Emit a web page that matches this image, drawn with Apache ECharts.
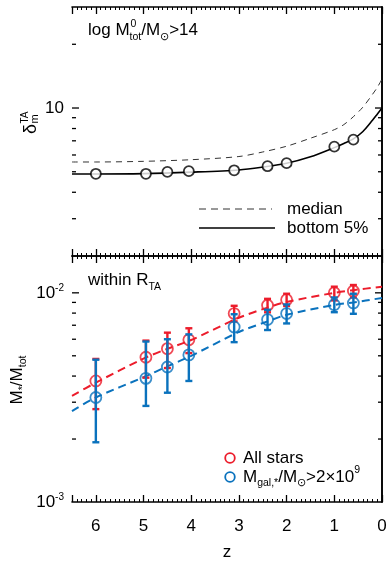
<!DOCTYPE html>
<html><head><meta charset="utf-8">
<script src="https://cdn.jsdelivr.net/npm/echarts@6/dist/echarts.min.js"></script>
<style>html,body{margin:0;padding:0;background:#fff}#c{width:390px;height:562px}</style>
</head><body><div id="c"></div>
<script>
// ---------- data ----------
const zTop = [6.0, 4.95, 4.5, 4.05, 3.1, 2.4, 2.0, 1.0, 0.6];
const deltaBottom5Pts = [4.89, 4.89, 4.99, 5.03, 5.08, 5.31, 5.49, 6.57, 7.09];
const zCurve = [6.5, 6, 5, 4, 3, 2.5, 2, 1.5, 1, 0.8, 0.6, 0.4, 0.2, 0.1, 0];
const bottom5Curve = [4.88, 4.88, 4.9, 4.98, 5.1, 5.26, 5.48, 5.88, 6.5, 6.8, 7.15, 7.75, 8.75, 9.35, 10.0];
const medianCurve = [5.56, 5.56, 5.6, 5.7, 5.9, 6.2, 6.6, 7.2, 7.9, 8.35, 9.1, 10.1, 11.6, 12.5, 13.7];

const zBot = [6.0, 4.95, 4.5, 4.05, 3.1, 2.4, 2.0, 1.0, 0.6];
const allStars   = [3.79e-3, 4.92e-3, 5.41e-3, 5.96e-3, 7.96e-3, 8.72e-3, 9.27e-3, 1.0e-2, 1.02e-2];
const allStarsHi = [4.83e-3, 5.91e-3, 6.45e-3, 6.77e-3, 8.67e-3, 9.36e-3, 9.9e-3, 1.07e-2, 1.09e-2];
const allStarsLo = [2.78e-3, 3.93e-3, 4.37e-3, 5.15e-3, 7.3e-3, 8.07e-3, 8.65e-3, 9.2e-3, 9.5e-3];
const massive    = [3.16e-3, 3.9e-3, 4.42e-3, 5.05e-3, 6.86e-3, 7.45e-3, 7.96e-3, 8.78e-3, 8.95e-3];
const massiveHi  = [4.79e-3, 5.85e-3, 6.0e-3, 6.33e-3, 7.9e-3, 8.3e-3, 8.8e-3, 9.5e-3, 9.9e-3];
const massiveLo  = [1.93e-3, 2.88e-3, 3.33e-3, 3.79e-3, 5.81e-3, 6.64e-3, 7.14e-3, 8.08e-3, 7.94e-3];
const zFit = [6.5, 6, 5, 4.5, 4, 3, 2.4, 2, 1, 0.6, 0];
const allFit  = [3.22e-3, 3.72e-3, 4.85e-3, 5.4e-3, 5.95e-3, 7.6e-3, 8.5e-3, 9.05e-3, 1.0e-2, 1.03e-2, 1.07e-2];
const massFit = [2.72e-3, 3.16e-3, 3.95e-3, 4.45e-3, 5.0e-3, 6.5e-3, 7.3e-3, 7.85e-3, 8.75e-3, 9.0e-3, 9.45e-3];

const xTickLabels = [0, 1, 2, 3, 4, 5, 6];
const topMajorTicks = [10];
const topMinorTicks = [3, 4, 5, 6, 7, 8, 9, 20];
const botMajorTicks = [0.01];
const botMinorTicks = [0.002, 0.003, 0.004, 0.005, 0.006, 0.007, 0.008, 0.009];

// ---------- style ----------
const FONT = '"Liberation Sans", Arial, Helvetica, sans-serif';
const RED = '#EC1C2B', BLUE = '#0A72BD';
const Z_MIN = 0, Z_MAX = 6.5;
const TOP_MIN = 2, TOP_MAX = 30, BOT_MIN = 0.001, BOT_MAX = 0.015;
const TICKCOL = '#000';

const chart = echarts.init(document.getElementById('c'), null, {renderer: 'canvas'});

function zip(a, b) { return a.map((v, i) => [v, b[i]]); }
function zip3(a, b, c) { return a.map((v, i) => [v, b[i], c[i]]); }

function yTickRender(params, api) {
  const v = api.value(1), major = api.value(2);
  const l = api.coord([Z_MAX, v]), r = api.coord([Z_MIN, v]);
  const len = major ? 7 : 4;
  return {type: 'group', children: [
    {type: 'line', shape: {x1: l[0], y1: l[1], x2: l[0] + len, y2: l[1]}, style: {stroke: '#000', lineWidth: 1.3}},
    {type: 'line', shape: {x1: r[0], y1: r[1], x2: r[0] - len, y2: r[1]}, style: {stroke: '#000', lineWidth: 1.3}}
  ]};
}
function errRender(color) {
  return function (params, api) {
    const z = api.value(0);
    const a = api.coord([z, api.value(1)]), b = api.coord([z, api.value(2)]);
    const w = 3.5;
    const st = {stroke: color, lineWidth: 2.4};
    return {type: 'group', children: [
      {type: 'line', shape: {x1: a[0], y1: a[1], x2: b[0], y2: b[1]}, style: st},
      {type: 'line', shape: {x1: a[0] - w, y1: a[1], x2: a[0] + w, y2: a[1]}, style: st},
      {type: 'line', shape: {x1: b[0] - w, y1: b[1], x2: b[0] + w, y2: b[1]}, style: st}
    ]};
  };
}
function tickData(major, minor) {
  return major.map(v => [0, v, 1]).concat(minor.map(v => [0, v, 0]));
}
function near(v, t) { return Math.abs(Math.log10(v) - Math.log10(t)) < 1e-6; }

function xAx(grid, pos, labels) {
  return {
    type: 'value', gridIndex: grid, position: pos, min: Z_MIN, max: Z_MAX, interval: 1, inverse: true,
    axisLine: {show: true, lineStyle: {color: '#000', width: 1.6}},
    axisTick: {show: true, inside: true, length: 7, lineStyle: {color: TICKCOL, width: 1.3}},
    minorTick: {show: true, splitNumber: 10, length: 3, lineStyle: {color: TICKCOL, width: 1}},
    splitLine: {show: false},
    axisLabel: labels ? {show: true, margin: 16, fontSize: 17, color: '#000', fontFamily: FONT,
      formatter: v => (xTickLabels.indexOf(Math.round(v)) >= 0 ? String(Math.round(v)) : '')} : {show: false},
    name: labels ? 'z' : '', nameLocation: 'middle', nameGap: 42,
    nameTextStyle: {fontSize: 17, color: '#000', fontFamily: FONT}
  };
}
function yAx(grid, pos, min, max, fmt) {
  return {
    type: 'log', logBase: 10, gridIndex: grid, position: pos, min: min, max: max,
    axisLine: {show: true, lineStyle: {color: '#000', width: 1.6}}, axisTick: {show: false},
    splitLine: {show: false},
    axisLabel: fmt ? {show: true, margin: 8, color: '#000', fontFamily: FONT,
      formatter: fmt,
      rich: {b: {fontSize: 17, fontFamily: FONT, color: '#000', lineHeight: 20, verticalAlign: 'middle'},
             s: {fontSize: 10, fontFamily: FONT, color: '#000', lineHeight: 10, verticalAlign: 'top'}}} : {show: false}
  };
}

const mctx = document.createElement('canvas').getContext('2d');
function tw(t, size) { mctx.font = size + 'px ' + FONT; return mctx.measureText(t).width; }

const richMain = {fontSize: 17, fontFamily: FONT, color: '#000', lineHeight: 24, verticalAlign: 'middle'};
const richSub = {fontSize: 10.5, fontFamily: FONT, color: '#000', lineHeight: 10, verticalAlign: 'bottom'};
const richSup = {fontSize: 10.5, fontFamily: FONT, color: '#000', lineHeight: 10, verticalAlign: 'top'};
const RICH = {m: richMain, s: richSub, p: richSup};

const titleX = 88, titleY = 34;
const supX = titleX + tw('log M', 17) + 1;

const option = {
  animation: false,
  grid: [
    {left: 72, top: 7, width: 310, height: 249},
    {left: 72, top: 256, width: 310, height: 250}
  ],
  xAxis: [xAx(0, 'bottom', false), xAx(0, 'top', false), xAx(1, 'bottom', true), xAx(1, 'top', false)],
  yAxis: [
    yAx(0, 'left', TOP_MIN, TOP_MAX, v => (near(v, 10) ? '{b|10}' : '')),
    yAx(0, 'right', TOP_MIN, TOP_MAX, null),
    yAx(1, 'left', BOT_MIN, BOT_MAX, v => (near(v, 0.01) ? '{b|10}{s|-2}' : near(v, 0.001) ? '{b|10}{s|-3}' : '')),
    yAx(1, 'right', BOT_MIN, BOT_MAX, null)
  ],
  series: [
    {type: 'custom', xAxisIndex: 0, yAxisIndex: 0, renderItem: yTickRender, data: tickData(topMajorTicks, topMinorTicks), silent: true, z: 1},
    {type: 'custom', xAxisIndex: 2, yAxisIndex: 2, renderItem: yTickRender, data: tickData(botMajorTicks, botMinorTicks), silent: true, z: 1},
    {type: 'line', xAxisIndex: 0, yAxisIndex: 0, data: zip(zCurve, medianCurve), smooth: 0.3, showSymbol: false,
      lineStyle: {color: '#333', width: 1, type: [6, 5]}, z: 2},
    {type: 'line', xAxisIndex: 0, yAxisIndex: 0, data: zip(zCurve, bottom5Curve), smooth: 0.3, showSymbol: false,
      lineStyle: {color: '#000', width: 1.6}, z: 2},
    {type: 'scatter', xAxisIndex: 0, yAxisIndex: 0, data: zip(zTop, deltaBottom5Pts), symbol: 'circle', symbolSize: 10,
      itemStyle: {color: '#fff', borderColor: '#000', borderWidth: 1.8}, z: 3},
    {type: 'line', xAxisIndex: 2, yAxisIndex: 2, data: zip(zFit, allFit), smooth: 0.3, showSymbol: false,
      lineStyle: {color: RED, width: 2, type: [8, 5]}, z: 2},
    {type: 'line', xAxisIndex: 2, yAxisIndex: 2, data: zip(zFit, massFit), smooth: 0.3, showSymbol: false,
      lineStyle: {color: BLUE, width: 2, type: [8, 5]}, z: 2},
    {type: 'custom', xAxisIndex: 2, yAxisIndex: 2, renderItem: errRender(RED), data: zip3(zBot, allStarsLo, allStarsHi),
      encode: {x: 0, y: [1, 2]}, z: 3},
    {type: 'scatter', xAxisIndex: 2, yAxisIndex: 2, data: zip(zBot, allStars), symbol: 'circle', symbolSize: 11,
      itemStyle: {color: 'rgba(0,0,0,0)', borderColor: RED, borderWidth: 1.8}, z: 4},
    {type: 'custom', xAxisIndex: 2, yAxisIndex: 2, renderItem: errRender(BLUE), data: zip3(zBot, massiveLo, massiveHi),
      encode: {x: 0, y: [1, 2]}, z: 5},
    {type: 'scatter', xAxisIndex: 2, yAxisIndex: 2, data: zip(zBot, massive), symbol: 'circle', symbolSize: 11,
      itemStyle: {color: 'rgba(0,0,0,0)', borderColor: BLUE, borderWidth: 1.8}, z: 6}
  ],
  graphic: [
    {type: 'text', left: titleX, top: titleY - 12, style: {text: '{m|log M}{s|tot}{m|/M}{s|⊙}{m|>14}', rich: RICH}},
    {type: 'text', x: supX, y: titleY - 10, style: {text: '0', fontSize: 10.5, fontFamily: FONT, fill: '#000', verticalAlign: 'middle'}},
    {type: 'text', left: titleX, top: 284 - 12, style: {text: '{m|within R}{s|TA}', rich: RICH}},
    {type: 'line', shape: {x1: 199, y1: 209, x2: 272, y2: 209}, style: {stroke: '#333', lineWidth: 1, lineDash: [7, 5]}},
    {type: 'text', x: 287, y: 209, style: {text: 'median', fontSize: 17, fontFamily: FONT, fill: '#000', verticalAlign: 'middle'}},
    {type: 'line', shape: {x1: 199, y1: 228, x2: 275, y2: 228}, style: {stroke: '#000', lineWidth: 1.6}},
    {type: 'text', x: 287, y: 228, style: {text: 'bottom 5%', fontSize: 17, fontFamily: FONT, fill: '#000', verticalAlign: 'middle'}},
    {type: 'circle', shape: {cx: 230, cy: 458, r: 4.8}, style: {fill: 'none', stroke: RED, lineWidth: 1.8}},
    {type: 'text', x: 243, y: 458, style: {text: 'All stars', fontSize: 17, fontFamily: FONT, fill: '#000', verticalAlign: 'middle'}},
    {type: 'circle', shape: {cx: 230, cy: 477, r: 4.8}, style: {fill: 'none', stroke: BLUE, lineWidth: 1.8}},
    {type: 'text', left: 243, top: 477 - 12, style: {text: '{m|M}{s|gal,*}{m|/M}{s|⊙}{m|>2×10}{p|9}', rich: RICH}},
    {type: 'group', x: 31, y: 134, rotation: Math.PI / 2, children: [
      {type: 'text', x: 0, y: 0, style: {text: 'δ', fontSize: 18, fontFamily: FONT, fill: '#000', verticalAlign: 'middle', align: 'left'}},
      {type: 'text', x: 10.5, y: -6, style: {text: 'TA', fontSize: 10, fontFamily: FONT, fill: '#000', verticalAlign: 'middle', align: 'left'}},
      {type: 'text', x: 10.5, y: 4, style: {text: 'm', fontSize: 11, fontFamily: FONT, fill: '#000', verticalAlign: 'middle', align: 'left'}}
    ]},
    {type: 'group', x: 17, y: 380, rotation: Math.PI / 2, children: [
      {type: 'text', x: 0, y: 0, style: {text: '{m|M}{s|*}{m|/M}{s|tot}', rich: RICH, align: 'center', verticalAlign: 'middle'}}
    ]}
  ]
};
chart.setOption(option);
</script>
</body></html>
